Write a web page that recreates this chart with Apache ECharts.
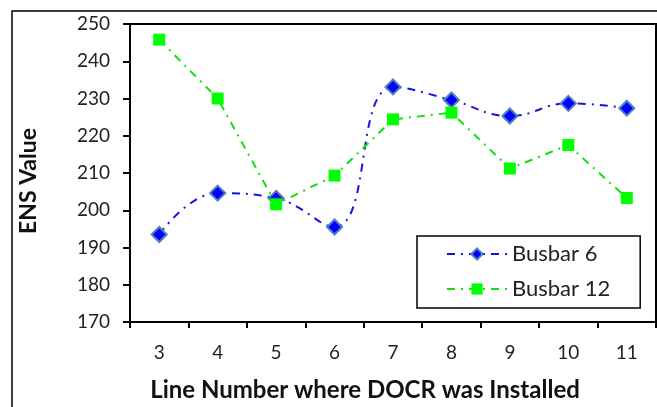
<!DOCTYPE html>
<html><head><meta charset="utf-8">
<script src="https://cdn.jsdelivr.net/npm/echarts@6/dist/echarts.min.js"></script>
<style>html,body{margin:0;padding:0;background:#fff}#c{width:657px;height:407px}</style>
</head><body><div id="c"></div>
<script>
var categories = ['3','4','5','6','7','8','9','10','11'];
var busbar6 = [193.5, 204.6, 203.2, 195.5, 233.1, 229.6, 225.3, 228.7, 227.4];
var busbar12 = [245.8, 230.0, 201.6, 209.3, 224.4, 226.2, 211.2, 217.5, 203.3];
var yTicks = {min: 170, max: 250, interval: 10};
var FONT = 'Lato';

var chart = echarts.init(document.getElementById('c'));
chart.setOption({
  animation: false,
  graphic: [{
    type: 'rect', shape: {x: 12, y: 11, width: 700, height: 450},
    style: {fill: 'none', stroke: '#000', lineWidth: 1.5}, silent: true
  }],
  grid: {left: 130, top: 24, right: 1, bottom: 83, show: true, borderColor: '#000', borderWidth: 2},
  xAxis: {
    type: 'category', data: categories, boundaryGap: true,
    axisLine: {lineStyle: {color: '#000', width: 2}},
    axisTick: {show: true, length: 6, lineStyle: {color: '#000', width: 2}, alignWithLabel: false},
    axisLabel: {fontFamily: FONT, fontSize: 19, color: '#222', margin: 21},
    name: 'Line Number where DOCR was Installed', nameLocation: 'middle', nameGap: 56,
    nameTextStyle: {fontFamily: FONT, fontSize: 24, fontWeight: 'bold', color: '#111', padding: [0, 56, 0, 0]}
  },
  yAxis: {
    type: 'value', min: yTicks.min, max: yTicks.max, interval: yTicks.interval,
    splitLine: {show: false},
    axisLine: {show: true, lineStyle: {color: '#000', width: 2}},
    axisTick: {show: true, length: 7, lineStyle: {color: '#000', width: 2}},
    axisLabel: {fontFamily: FONT, fontSize: 19, color: '#222', margin: 20},
    name: 'ENS Value', nameLocation: 'middle', nameGap: 90, nameRotate: 90,
    nameTextStyle: {fontFamily: FONT, fontSize: 23, fontWeight: 'bold', color: '#111', padding: [0, 16, 0, 0]}
  },
  legend: {
    orient: 'vertical', left: 417, top: 236,
    borderColor: '#000', borderWidth: 1.5, padding: [7, 30, 8, 29],
    itemWidth: 60, itemHeight: 14, itemGap: 13,
    textStyle: {fontFamily: FONT, fontSize: 22, color: '#222', lineHeight: 22},
    data: ['Busbar 6', 'Busbar 12']
  },
  series: [{
    name: 'Busbar 6', type: 'line', data: busbar6, smooth: 0.45,
    symbol: 'diamond', symbolSize: 15,
    lineStyle: {color: '#1515E0', width: 2, type: [8, 6, 2, 6]},
    itemStyle: {color: '#0000FF', borderColor: '#4F81BD', borderWidth: 2}
  }, {
    name: 'Busbar 12', type: 'line', data: busbar12, smooth: false,
    symbol: 'rect', symbolSize: 12,
    lineStyle: {color: '#10E010', width: 2, type: [8, 6, 2, 6]},
    itemStyle: {color: '#00FF00', borderColor: '#00FF00', borderWidth: 0}
  }]
});
</script></body></html>
